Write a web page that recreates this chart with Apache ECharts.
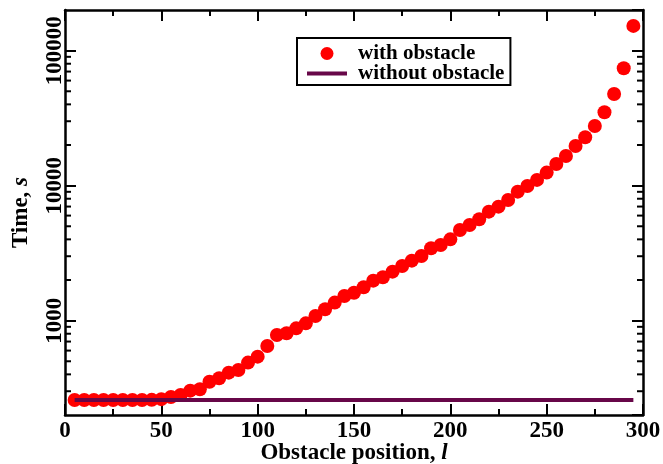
<!DOCTYPE html>
<html>
<head>
<meta charset="utf-8">
<script src="https://cdn.jsdelivr.net/npm/echarts@6/dist/echarts.min.js"></script>
<style>html,body{margin:0;padding:0;background:#fff;}#c{width:663px;height:464px;}</style>
</head>
<body>
<div id="c"></div>
<script>
// Obstacle position l
var positions = [5,10,15,20,25,30,35,40,45,50,55,60,65,70,75,80,85,90,95,100,
  105,110,115,120,125,130,135,140,145,150,155,160,165,170,175,180,185,190,195,200,
  205,210,215,220,225,230,235,240,245,250,255,260,265,270,275,280,285,290,295];
// Time s, with obstacle
var withObstacle = [258,258,258,258,258,258,258,258,259,262,272,281,303,310,353,374,412,431,489,541,
  649,783,806,877,955,1083,1214,1360,1523,1611,1766,1978,2094,2306,2541,2782,3012,3433,3634,4002,
  4693,5115,5634,6418,6990,7832,9029,9950,11030,12490,14460,16590,19670,22810,27670,34920,47730,73960,152500];
// Time s, without obstacle (constant)
var withoutStart = 5, withoutEnd = 295, withoutValue = 258;
var yMajorLabels = [1000, 10000, 100000];
var yMinorTicks = [300,400,500,600,700,800,900,2000,3000,4000,5000,6000,7000,8000,9000,
  20000,30000,40000,50000,60000,70000,80000,90000];

var font = 'Liberation Serif';
var chart = echarts.init(document.getElementById('c'));
var axisLine = {show: true, onZero: false, lineStyle: {color: '#000', width: 2.5}};
var tickMajor = {show: true, inside: true, length: 11, lineStyle: {color: '#000', width: 2}};
var minor = {show: true, splitNumber: 2, length: 6, lineStyle: {color: '#000', width: 2}};
var lineColor = '#670748';

var option = {
  animation: false,
  backgroundColor: '#fff',
  grid: {left: 65, right: 20, top: 10, bottom: 49, containLabel: false, outerBoundsMode: 'none'},
  legend: {
    left: 297, top: 38, orient: 'vertical',
    padding: [5, 6, 1, 8],
    borderColor: '#000', borderWidth: 2, backgroundColor: '#fff',
    itemWidth: 40, itemHeight: 13, itemGap: -1,
    textStyle: {fontFamily: font, fontWeight: 'bold', fontSize: 21, color: '#000', padding: [0, 0, 0, 6]},
    data: [
      {name: 'with obstacle', icon: 'circle', itemStyle: {color: '#ff0000', opacity: 1}},
      {name: 'without obstacle', itemStyle: {opacity: 0}, lineStyle: {color: lineColor, width: 4}}
    ]
  },
  xAxis: [{
    type: 'value', min: 0, max: 300, interval: 50, position: 'bottom',
    axisLine: axisLine, axisTick: tickMajor, minorTick: minor, splitLine: {show: false},
    axisLabel: {fontFamily: font, fontWeight: 'bold', fontSize: 23, color: '#000', margin: 5},
    name: '{a|Obstacle position, }{b|l}', nameLocation: 'middle', nameGap: 27, nameMoveOverlap: false,
    nameTextStyle: {rich: {
      a: {fontFamily: font, fontWeight: 'bold', fontSize: 23, lineHeight: 23, color: '#000'},
      b: {fontFamily: font, fontWeight: 'bold', fontStyle: 'italic', fontSize: 23, lineHeight: 23, color: '#000'}
    }}
  }, {
    type: 'value', min: 0, max: 300, interval: 50, position: 'top',
    axisLine: axisLine, axisTick: tickMajor, minorTick: minor, splitLine: {show: false},
    axisLabel: {show: false}
  }],
  yAxis: [{
    type: 'log', logBase: 10, min: 200, max: 200000, position: 'left',
    axisLine: axisLine, axisTick: tickMajor, splitLine: {show: false},
    axisLabel: {fontFamily: font, fontWeight: 'bold', fontSize: 23, color: '#000', rotate: 90, margin: -2,
      showMinLabel: false, showMaxLabel: false,
      formatter: function (v) {
        for (var i = 0; i < yMajorLabels.length; i++) {
          if (Math.abs(v - yMajorLabels[i]) < 1e-6 * yMajorLabels[i]) return String(yMajorLabels[i]);
        }
        return '';
      }},
    name: '{a|Time, }{b|s}', nameLocation: 'middle', nameGap: 32, nameMoveOverlap: false,
    nameTextStyle: {rich: {
      a: {fontFamily: font, fontWeight: 'bold', fontSize: 23, color: '#000'},
      b: {fontFamily: font, fontWeight: 'bold', fontStyle: 'italic', fontSize: 23, color: '#000'}
    }}
  }, {
    type: 'log', logBase: 10, min: 200, max: 200000, position: 'right',
    axisLine: axisLine, axisTick: tickMajor, splitLine: {show: false},
    axisLabel: {show: false}
  }],
  series: [{
    name: 'with obstacle', type: 'scatter', symbol: 'circle', symbolSize: 14,
    itemStyle: {color: '#ff0000', opacity: 1},
    data: positions.map(function (p, i) { return [p, withObstacle[i]]; }),
    z: 2
  }, {
    name: 'without obstacle', type: 'line', symbol: 'none',
    lineStyle: {color: lineColor, width: 4}, itemStyle: {color: lineColor},
    data: [[withoutStart, withoutValue], [withoutEnd, withoutValue]],
    z: 3
  }, {
    type: 'custom', silent: true, clip: false, z: 4,
    data: yMinorTicks.map(function (v) { return [0, v]; }),
    renderItem: function (params, api) {
      var cs = params.coordSys;
      var pt = api.coord([0, api.value(1)]);
      var y = pt[1];
      var st = {stroke: '#000', lineWidth: 2};
      return {type: 'group', children: [
        {type: 'line', shape: {x1: cs.x, y1: y, x2: cs.x + 6, y2: y}, style: st},
        {type: 'line', shape: {x1: cs.x + cs.width, y1: y, x2: cs.x + cs.width - 6, y2: y}, style: st}
      ]};
    }
  }]
};
chart.setOption(option);
</script>
</body>
</html>
